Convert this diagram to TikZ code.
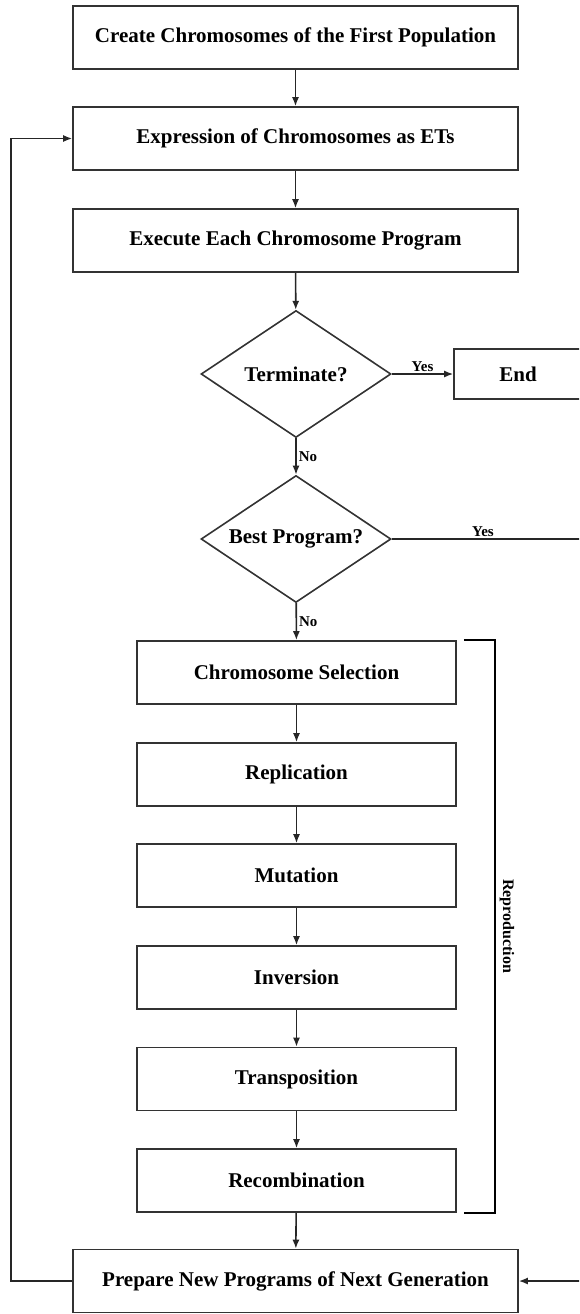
\documentclass[tikz,border=0pt]{standalone}
\usepackage{fontspec}
\setmainfont{Liberation Serif}
\usetikzlibrary{shapes.geometric,arrows.meta}

\begin{document}
\begin{tikzpicture}
    [x=1pt,y=-1pt,line width=1.6pt,
     every node/.style={font=\fontsize{21}{24}\selectfont\bfseries},
     box/.style={draw=black!80,rectangle,minimum width=445pt,minimum height=63pt,inner sep=0pt},
     stepbox/.style={box,minimum width=319pt},
     decision/.style={draw=black!80,diamond,aspect=1.5,minimum width=190pt,minimum height=127pt,inner sep=0pt},
     lbl/.style={font=\fontsize{15}{17}\selectfont\bfseries,inner sep=2pt},
     arr/.style={draw=black!85,-{Latex[length=9pt,width=7pt]}}]
    \useasboundingbox (0,0) rectangle (579,1314);
    \clip (0,0) rectangle (579,1314);
    \node[box] (create) at (295.5,37.5) {Create Chromosomes of the First Population};
    \node[box] (express) at (295.5,138.5) {Expression of Chromosomes as ETs};
    \node[box] (execute) at (295.5,240.5) {Execute Each Chromosome Program};
    \node[decision] (term) at (296,374) {Terminate?};
    \node[box,minimum width=128pt,minimum height=50pt] (end) at (518,374) {End};
    \node[decision] (best) at (296,539) {Best Program?};
    \node[stepbox] (select) at (296.5,672.5) {Chromosome Selection};
    \node[stepbox] (repl) at (296.5,774.5) {Replication};
    \node[stepbox] (mut) at (296.5,875.5) {Mutation};
    \node[stepbox] (inv) at (296.5,977.5) {Inversion};
    \node[stepbox] (trans) at (296.5,1079) {Transposition};
    \node[stepbox] (recomb) at (296.5,1180.5) {Recombination};
    \node[box] (prep) at (295.5,1281) {Prepare New Programs of Next Generation};
    \node[font=\fontsize{16}{18}\selectfont\bfseries,rotate=-90] (repro) at (507,926) {Reproduction};
    \coordinate (rtop) at (590,539);
    \coordinate (rbot) at (590,1281);
    \coordinate (lbot) at (11,1281);
    \coordinate (ltop) at (11,138.5);
    \draw[arr] (create) -- (express);
    \draw[arr] (express) -- (execute);
    \draw[arr] (execute) -- (term);
    \draw[arr] (term) -- node[lbl,above] (yes1) {Yes} (end);
    \draw[arr] (term) -- node[lbl,right] (no1) {No} (best);
    \draw[arr] (best) -- node[lbl,right] (no2) {No} (select);
    \draw[arr] (select) -- (repl);
    \draw[arr] (repl) -- (mut);
    \draw[arr] (mut) -- (inv);
    \draw[arr] (inv) -- (trans);
    \draw[arr] (trans) -- (recomb);
    \draw[arr] (recomb) -- (prep);
    \draw[arr] (best.east) -- node[lbl,above,pos=0.46] (yes2) {Yes} (rtop) -- (rbot) -- (prep.east);
    \draw[arr] (prep.west) -- (lbot) -- (ltop) -- (express.west);
    \draw[line width=2.2pt] ([xshift=7pt]select.north east) -- ++(31,0) |- ([xshift=7pt]recomb.south east);
  \end{tikzpicture}
\end{document}
